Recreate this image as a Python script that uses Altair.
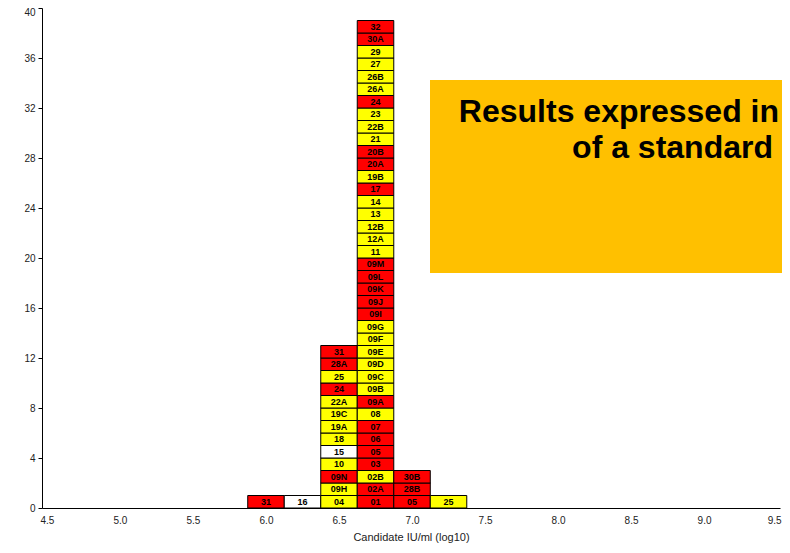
import altair as alt
import pandas as pd

# ---- data ----
bin_centers = [6.0, 6.25, 6.5, 6.75, 7.0, 7.25]
bin_width = 0.25
col_labels = [
    ["31"],
    ["16"],
    ["04", "09H", "09N", "10", "15", "18", "19A", "19C", "22A", "24", "25", "28A", "31"],
    ["01", "02A", "02B", "03", "05", "06", "07", "08", "09A", "09B", "09C", "09D", "09E",
     "09F", "09G", "09I", "09J", "09K", "09L", "09M", "11", "12A", "12B", "13", "14", "17",
     "19B", "20A", "20B", "21", "22B", "23", "24", "26A", "26B", "27", "29", "30A", "32"],
    ["05", "28B", "30B"],
    ["25"],
]
col_colors = [
    ["R"],
    ["W"],
    ["Y", "Y", "R", "Y", "W", "Y", "Y", "Y", "Y", "R", "Y", "R", "R"],
    ["R", "R", "Y", "R", "R", "R", "R", "Y", "R", "Y", "Y", "Y", "Y",
     "Y", "Y", "R", "R", "R", "R", "R", "Y", "Y", "Y", "Y", "Y", "R",
     "Y", "R", "R", "Y", "Y", "Y", "R", "Y", "Y", "Y", "Y", "R", "R"],
    ["R", "R", "R"],
    ["Y"],
]
x_ticks = [4.5, 5.0, 5.5, 6.0, 6.5, 7.0, 7.5, 8.0, 8.5, 9.0, 9.5]
y_ticks = list(range(0, 41, 2))
note_lines = ["Results expressed in", "of a standard"]

rows = []
for c, labs, cols in zip(bin_centers, col_labels, col_colors):
    for i, (lab, colr) in enumerate(zip(labs, cols)):
        rows.append({"x0": c - bin_width / 2, "x1": c + bin_width / 2, "xc": c,
                     "y0": i, "y1": i + 1, "yc": i + 0.5,
                     "label": lab, "color": colr})
df = pd.DataFrame(rows)

FONT = "Liberation Sans"

xscale = alt.Scale(domain=[4.466, 9.52], nice=False, zero=False)
yscale = alt.Scale(domain=[0, 40], nice=False, zero=True)

base = alt.Chart(df)

rects = base.mark_rect(stroke="black", strokeWidth=1).encode(
    x=alt.X("x0:Q", scale=xscale,
            axis=alt.Axis(values=x_ticks, format=".1f", tickSize=0, grid=False,
                          labelPadding=7, labelFontSize=10, labelFont=FONT,
                          labelColor="#222", domainColor="black", labelFlush=False,
                          labelOverlap=False,
                          labelOffset={"condition": {"test": "datum.value == 9.5", "value": -3}, "value": 0},
                          title="Candidate IU/ml (log10)", titleFont=FONT,
                          titleFontSize=11, titleFontWeight="normal",
                          titleColor="#222", titlePadding=6)),
    x2="x1:Q",
    y=alt.Y("y0:Q", scale=yscale,
            axis=alt.Axis(values=y_ticks, tickSize=4, grid=False, labelFontSize=10,
                          labelFont=FONT, labelColor="#222", domainColor="black",
                          tickColor="black", labelPadding=3, labelFlush=False,
                          labelOverlap=False,
                          labelOffset={"condition": {"test": "datum.value == 40", "value": 4}, "value": 0},
                          title=None)),
    y2="y1:Q",
    fill=alt.Fill("color:N", legend=None,
                  scale=alt.Scale(domain=["R", "Y", "W"],
                                  range=["#FF0000", "#FFFF00", "#FFFFFF"])),
)

texts = base.mark_text(fontSize=9, fontWeight="bold", font=FONT, color="black",
                       baseline="middle").encode(
    x=alt.X("xc:Q", scale=xscale),
    y=alt.Y("yc:Q", scale=yscale),
    text="label:N",
)

box = alt.Chart(pd.DataFrame({"a": [0]})).mark_rect(color="#FFC000").encode(
    x=alt.value(388), x2=alt.value(748), y=alt.value(72), y2=alt.value(265)
)

note1 = alt.Chart(pd.DataFrame({"t": [note_lines[0]]})).mark_text(
    font=FONT, fontSize=32, fontWeight="bold", align="right", baseline="alphabetic",
    color="black").encode(x=alt.value(737), y=alt.value(114), text="t:N")
note2 = alt.Chart(pd.DataFrame({"t": [note_lines[1]]})).mark_text(
    font=FONT, fontSize=32, fontWeight="bold", align="right", baseline="alphabetic",
    color="black").encode(x=alt.value(731), y=alt.value(150), text="t:N")

chart = alt.layer(rects, texts, box, note1, note2).properties(
    width=738, height=500,
    autosize=alt.AutoSizeParams(type="none"),
    padding={"left": 34, "top": 0, "right": 2, "bottom": 37},
    background="white",
).configure_view(stroke=None)

chart.save("out.html", embed_options={"renderer": "svg", "actions": False})
